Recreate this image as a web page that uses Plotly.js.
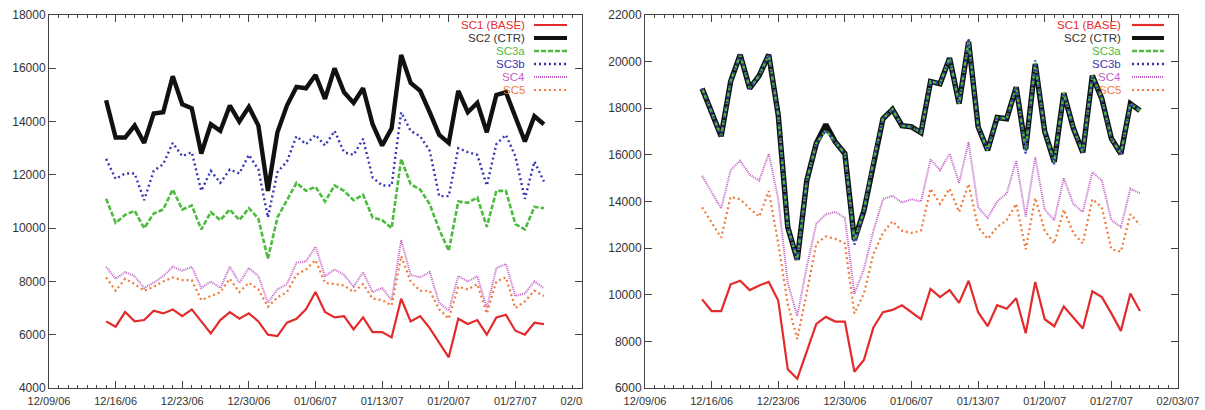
<!DOCTYPE html>
<html>
<head>
<meta charset="utf-8">
<script src="https://cdn.plot.ly/plotly-3.0.1.min.js"></script>
<style>
html,body{margin:0;padding:0;background:#fff;}
#chart{width:1205px;height:410px;}
</style>
</head>
<body>
<div id="chart"></div>
<script>
// ---- data ----
const dates = [
 '2006-12-15','2006-12-16','2006-12-17','2006-12-18','2006-12-19','2006-12-20','2006-12-21',
 '2006-12-22','2006-12-23','2006-12-24','2006-12-25','2006-12-26','2006-12-27','2006-12-28',
 '2006-12-29','2006-12-30','2006-12-31','2007-01-01','2007-01-02','2007-01-03','2007-01-04',
 '2007-01-05','2007-01-06','2007-01-07','2007-01-08','2007-01-09','2007-01-10','2007-01-11',
 '2007-01-12','2007-01-13','2007-01-14','2007-01-15','2007-01-16','2007-01-17','2007-01-18',
 '2007-01-19','2007-01-20','2007-01-21','2007-01-22','2007-01-23','2007-01-24','2007-01-25',
 '2007-01-26','2007-01-27','2007-01-28','2007-01-29','2007-01-30'
];
const seriesNames = ['SC1 (BASE)','SC2 (CTR)','SC3a','SC3b','SC4','SC5'];

// left panel
const leftSC1 = [6500,6300,6850,6500,6550,6900,6800,6950,6700,6950,6500,6050,6550,6850,6600,6800,6500,6000,5950,6450,6600,6950,7600,6850,6650,6700,6200,6650,6100,6100,5900,7350,6500,6700,6250,5700,5150,6600,6400,6550,6000,6650,6750,6150,6000,6450,6400];
const leftSC2 = [14800,13400,13400,13850,13200,14300,14350,15700,14650,14500,12800,13900,13650,14600,14000,14550,13850,11400,13600,14600,15300,15250,15750,14850,16000,15100,14700,15250,13900,13100,13750,16500,15450,15150,14350,13500,13200,15150,14350,14700,13600,15000,15100,14150,13250,14200,13900];
const leftSC3a = [11100,10200,10500,10650,10000,10550,10700,11450,10700,10850,9950,10600,10300,10700,10300,10750,10350,8850,10400,11050,11700,11400,11550,11000,11600,11400,11050,11250,10400,10300,10000,12600,11650,11450,10900,9950,9150,11000,10950,11150,10050,11400,11400,10150,9950,10800,10750];
const leftSC3b = [12600,11850,12050,12050,11050,12150,12400,13200,12700,12850,11400,12150,11700,12200,12050,12750,12200,10400,12100,12500,13450,13150,13500,13100,13650,12850,12750,13350,11900,11600,11600,14350,13650,13450,12900,11200,11200,13000,12850,12750,11600,13150,13500,12700,11100,12500,11750];
const leftSC4 = [8550,8100,8350,8200,7750,7950,8200,8550,8400,8550,7750,8000,7750,8550,7950,8500,8200,7200,7700,7900,8700,8750,9300,8200,8450,8250,7800,8350,7600,7750,7300,9550,8250,8150,8350,7200,6900,8200,8000,8200,7000,8500,8650,7450,7550,8000,7750];
const leftSC5 = [8150,7650,8100,7900,7650,7800,8000,8150,8050,8050,7300,7450,7600,8100,7600,7950,7700,7050,7400,7600,8250,8450,8800,7950,7900,7850,7600,7900,7350,7300,7100,8950,8000,7650,7650,6950,6600,7800,7700,7900,6800,8000,8150,7000,7250,7650,7450];

// right panel
const rightSC1 = [9800,9300,9300,10450,10600,10200,10400,10550,9750,6800,6400,7600,8750,9050,8850,8850,6700,7200,8600,9250,9350,9550,9250,8950,10250,9900,10200,9650,10600,9250,8650,9550,9400,9850,8350,10550,8950,8650,9500,9000,8550,10150,9900,9200,8450,10050,9300];
const rightSC2 = [18850,17850,16800,19150,20300,18850,19400,20300,17700,12900,11500,14900,16500,17300,16550,16050,12350,13600,15700,17550,17950,17250,17200,16950,19150,19050,20150,18200,20850,17200,16200,17600,17550,18900,16250,19900,17000,15700,18650,17150,16100,19400,18400,16700,16050,18200,17900];
const rightSC3a = [18850,17850,16800,19150,20300,18850,19400,20300,17700,12900,11500,14900,16500,17050,16550,16050,12300,13600,15700,17550,17950,17250,17200,16950,19150,19050,20150,18200,20900,17200,16200,17600,17550,18900,16200,19950,17000,15700,18650,17150,16100,19400,18400,16700,16050,18200,17900];
const rightSC3b = [18850,17850,16800,19150,20300,18850,19400,20300,17700,12900,11450,14900,16500,17050,16550,16050,12150,13600,15700,17550,17950,17250,17200,16950,19150,19050,20150,18200,21000,17200,16200,17600,17550,18900,16050,20050,17000,15600,18650,17150,16100,19400,18400,16700,16050,18200,17900];
const rightSC4 = [15100,14400,13700,15350,15750,15150,14900,16050,14100,10500,9100,11200,13050,13450,13550,13300,10050,11100,12750,14100,14250,13950,14100,14000,15800,15350,16050,14800,16550,13750,13300,14000,14350,15750,13350,15900,13650,13200,15000,13900,13550,15250,14900,13200,12900,14550,14350];
const rightSC5 = [13750,13100,12450,14200,14100,13700,13350,14450,12200,9600,8100,10100,12200,12500,12400,12200,9200,10050,11750,12650,13150,12750,12650,12750,14550,13900,14550,13550,14750,12900,12400,12900,13200,13900,11950,14150,12750,12200,13650,12650,12200,14100,13750,11950,11850,13450,13000];

// ---- styles ----
const FONT = 'Liberation Sans, Arial, Helvetica, sans-serif';
const styles = [
  {color:'#e32b2b', width:2.2, dash:'solid'},
  {color:'#111111', width:4.4, dash:'solid'},
  {color:'#4dbb3f', width:2.6, dash:'5px,2px'},
  {color:'#3535b5', width:2.4, dash:'2px,3px'},
  {color:'#c462c8', width:2.0, dash:'1px,1px'},
  {color:'#ef7a3a', width:2.2, dash:'2px,3px'}
];
const stylesRight = styles.map((s,i)=> i===1 ? {color:s.color,width:5.4,dash:'solid'} : s);

const leftSeries = [leftSC1,leftSC2,leftSC3a,leftSC3b,leftSC4,leftSC5];
const rightSeries = [rightSC1,rightSC2,rightSC3a,rightSC3b,rightSC4,rightSC5];

const traces = [];
leftSeries.forEach((ys,i)=>traces.push({
  x:dates, y:ys, type:'scatter', mode:'lines', name:seriesNames[i], xaxis:'x', yaxis:'y',
  line:{color:styles[i].color, width:styles[i].width, dash:styles[i].dash}, showlegend:false, hoverinfo:'skip'
}));
rightSeries.forEach((ys,i)=>traces.push({
  x:dates, y:ys, type:'scatter', mode:'lines', name:seriesNames[i], xaxis:'x2', yaxis:'y2',
  line:{color:stylesRight[i].color, width:stylesRight[i].width, dash:stylesRight[i].dash}, showlegend:false, hoverinfo:'skip'
}));

const W = 1205, PT = 15, PB = 388, PH = PB - PT;
const px = v => v / W;
const py = v => (PB - v) / PH;

function xax(domain, anchor){
  return {
    domain:domain, anchor:anchor, type:'date',
    range:['2006-12-09','2007-02-03'], tick0:'2006-12-09', dtick:7*86400000,
    tickformat:'%m/%d/%y', ticks:'inside', ticklen:7, tickwidth:1, tickcolor:'#444',
    showline:true, linecolor:'#444', linewidth:1, mirror:'ticks',
    showgrid:false, zeroline:false, automargin:false, fixedrange:true,
    ticklabelstandoff:3,
    tickfont:{family:FONT, size:11, color:'#333'},
    minor:{dtick:86400000, ticks:'inside', ticklen:3, tickcolor:'#444', tickwidth:1, showgrid:false}
  };
}
function yax(range, anchor){
  return {
    domain:[0,1], anchor:anchor, range:range, dtick:2000, tick0:0, tickformat:'d',
    ticks:'inside', ticklen:7, tickwidth:1, tickcolor:'#444',
    showline:true, linecolor:'#444', linewidth:1, mirror:'ticks',
    showgrid:false, zeroline:false, automargin:false, fixedrange:true,
    tickfont:{family:FONT, size:12, color:'#333'}
  };
}

// legend (gnuplot style: right-aligned text, sample to the right)
const legendRows = [25, 38, 51, 64, 77, 90];
const annotations = [], shapes = [];
function addLegend(textRight, s0, s1, st){
  seriesNames.forEach((n,i)=>{
    annotations.push({xref:'paper', yref:'paper', x:px(textRight), y:py(legendRows[i]),
      xanchor:'right', yanchor:'middle', text:n, showarrow:false, borderpad:0,
      font:{family:FONT, size:11.5, color: i===1 ? '#333333' : st[i].color}});
    shapes.push({type:'line', xref:'paper', yref:'paper', x0:px(s0), x1:px(s1),
      y0:py(legendRows[i]), y1:py(legendRows[i]),
      line:{color:st[i].color, width:Math.min(st[i].width,4), dash:st[i].dash}});
  });
}
addLegend(526, 534, 567, styles);
addLegend(1122, 1132, 1164, stylesRight);
// crop of the left panel's last date label (the source image was cut there)
shapes.push({type:'rect', xref:'paper', yref:'paper', x0:px(583), x1:px(607), y0:py(410), y1:py(392),
  fillcolor:'#ffffff', line:{width:0}, layer:'above'});

const layout = {
  width:1205, height:410,
  margin:{l:0, r:0, t:PT, b:410-PB, pad:0},
  paper_bgcolor:'#ffffff', plot_bgcolor:'#ffffff',
  showlegend:false,
  xaxis: xax([px(49), px(582)], 'y'),
  yaxis: yax([4000,18000], 'x'),
  xaxis2: xax([px(645), px(1178)], 'y2'),
  yaxis2: yax([6000,22000], 'x2'),
  annotations:annotations, shapes:shapes
};

Plotly.newPlot('chart', traces, layout, {staticPlot:true, displayModeBar:false});
</script>
</body>
</html>
